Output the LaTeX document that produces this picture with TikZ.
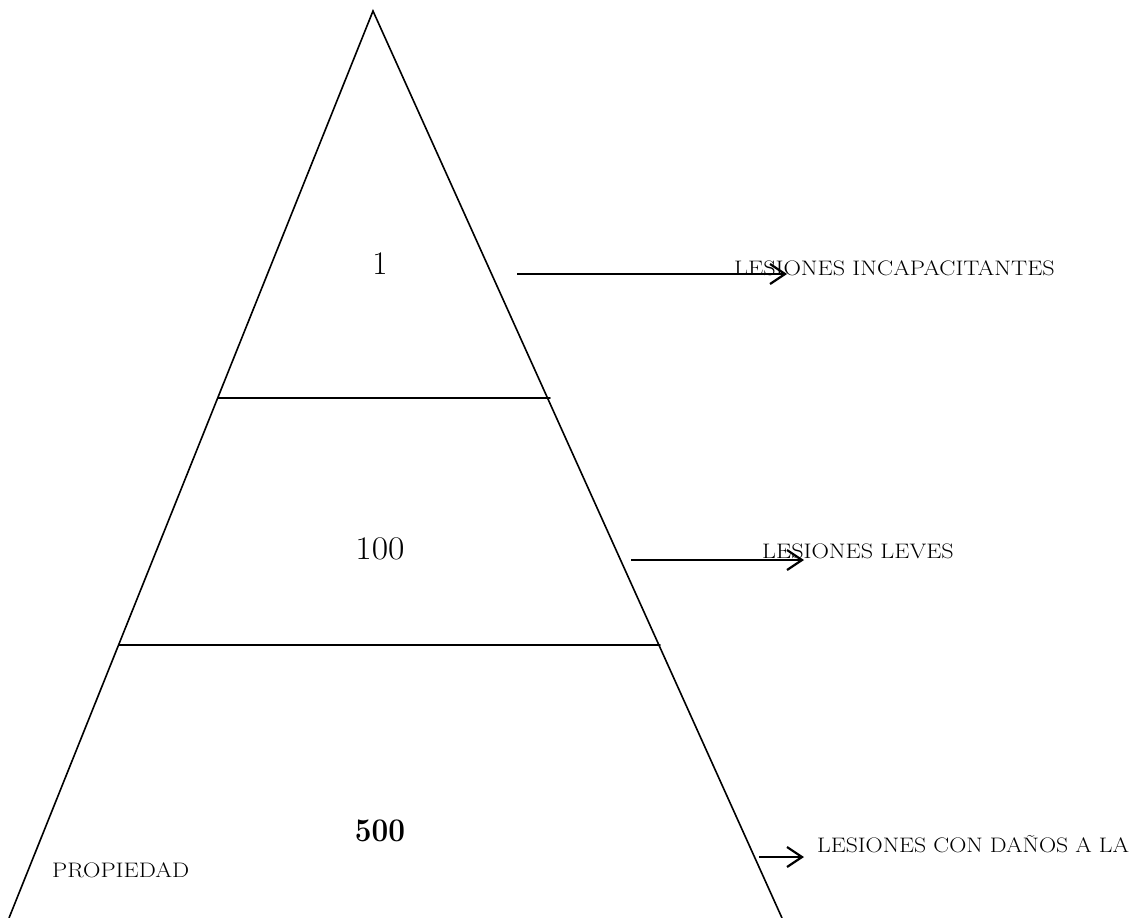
\documentclass[tikz,border=0pt]{standalone}
\usetikzlibrary{arrows.meta}
\newcommand{\widetext}[2]{\scalebox{#1}[1]{#2}}
\begin{document}
\begin{tikzpicture}[x=1pt,y=-1pt,
  edge/.style={line width=1.6pt,line cap=round,line join=miter},
  pointer/.style={line width=2.2pt,-{Straight Barb[length=15pt,width=20pt,line width=2.2pt]}},
  tier/.style={inner sep=0pt,anchor=base,font=\fontsize{33}{40}\selectfont},
  caption/.style={inner sep=0pt,anchor=base west,font=\fontsize{21}{25}\selectfont}]
\useasboundingbox (0,0) rectangle (1136,918);
% pyramid outline
\coordinate (apex) at (373,11);
\coordinate (bl) at (9,918);
\coordinate (br) at (782,918);
\draw[edge] (bl) -- (apex) -- (br);
% tier dividers
\coordinate (d1l) at (218,398);
\coordinate (d1r) at (550,398);
\coordinate (d2l) at (119,645);
\coordinate (d2r) at (660,645);
\draw[edge] (d1l) -- (d1r);
\draw[edge] (d2l) -- (d2r);
% tier counts
\node[tier] (n1) at (380,274) {1};
\node[tier] (n100) at (380,559) {\widetext{1.08}{100}};
\node[tier] (n500) at (380,841) {\widetext{0.9}{\bfseries 500}};
% captions
\node[caption] (c1) at (734,275) {\widetext{1.15}{LESIONES INCAPACITANTES}};
\node[caption] (c2) at (762,558) {\widetext{1.15}{LESIONES LEVES}};
\node[caption] (c3) at (817,852) {\widetext{1.13}{LESIONES CON DAÑOS A LA}};
\node[caption] (c4) at (52,877) {\widetext{1.15}{PROPIEDAD}};
% pointers
\coordinate (a1s) at (517,274);
\coordinate (a1e) at (787,274);
\coordinate (a2s) at (631,560);
\coordinate (a2e) at (804,560);
\coordinate (a3s) at (759,857);
\coordinate (a3e) at (804,857);
\draw[pointer] (a1s) -- (a1e);
\draw[pointer] (a2s) -- (a2e);
\draw[pointer] (a3s) -- (a3e);
\end{tikzpicture}
\end{document}
